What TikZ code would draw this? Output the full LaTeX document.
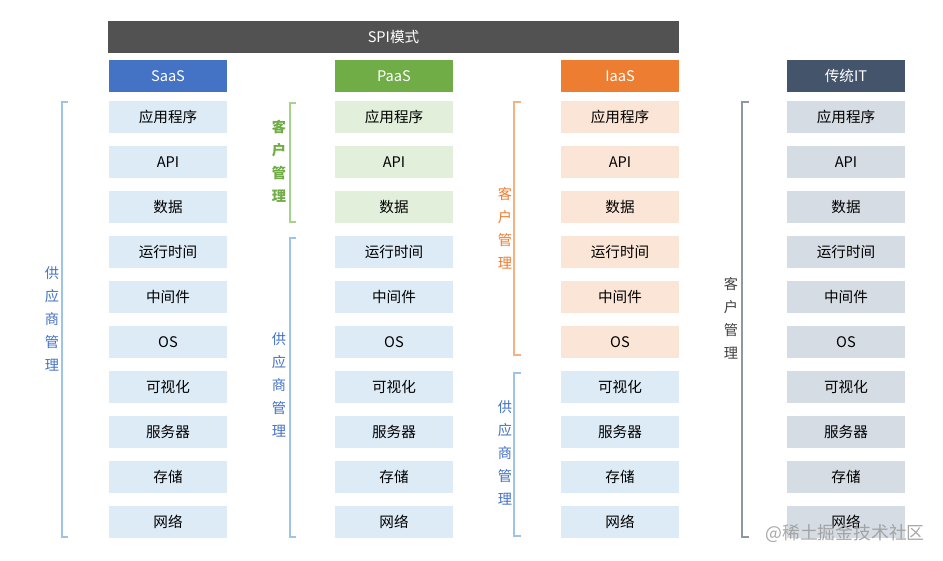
\documentclass[tikz,border=0pt]{standalone}
\usepackage{fontspec}
\setmainfont{Noto Sans CJK SC}
\definecolor{spi}{HTML}{525252}
\definecolor{saas}{HTML}{4472C4}
\definecolor{paas}{HTML}{70AD47}
\definecolor{iaas}{HTML}{ED7D31}
\definecolor{trad}{HTML}{44546A}
\definecolor{lblue}{HTML}{DDEBF7}
\definecolor{lgreen}{HTML}{E2EFDA}
\definecolor{lorange}{HTML}{FBE5D6}
\definecolor{lgray}{HTML}{D6DCE4}
\definecolor{bblue}{HTML}{9DC3E6}
\definecolor{bgreen}{HTML}{A9D18E}
\definecolor{borange}{HTML}{F4B183}
\definecolor{bgray}{HTML}{8F97A3}
\begin{document}
\begin{tikzpicture}[x=1pt,y=-1pt,
  cell/.style={minimum width=118pt,minimum height=32pt,inner sep=0pt,text=black,font=\fontsize{14.6}{16}\selectfont},
  head/.style={cell,text=white},
  brk/.style={line width=1.6pt},
  vlab/.style={align=center,inner sep=0pt,font=\fontsize{14.2}{23}\selectfont}]
\useasboundingbox (0,0) rectangle (943,561);
\fill[white] (0,0) rectangle (943,561);
% SPI bar
\node[cell,fill=spi,text=white,minimum width=571pt] (spi) at (393.5,37) {SPI模式};
% headers
\node[head,fill=saas] (h1) at (168,76) {SaaS};
\node[head,fill=paas] (h2) at (394,76) {PaaS};
\node[head,fill=iaas] (h3) at (620,76) {IaaS};
\node[head,fill=trad] (h4) at (846,76) {传统IT};
% rows
\def\rowlist{应用程序/0,API/1,数据/2,运行时间/3,中间件/4,OS/5,可视化/6,服务器/7,存储/8,网络/9}
\foreach \t/\j in \rowlist {
  \pgfmathsetmacro{\yy}{117+45*\j}
  \node[cell,fill=lblue] (c1-\j) at (168,\yy) {\t};
  \pgfmathsetmacro{\cA}{\j<3 ? 1 : 0}
  \ifdim\cA pt>0.5pt
    \node[cell,fill=lgreen] (c2-\j) at (394,\yy) {\t};
  \else
    \node[cell,fill=lblue] (c2-\j) at (394,\yy) {\t};
  \fi
  \pgfmathsetmacro{\cB}{\j<6 ? 1 : 0}
  \ifdim\cB pt>0.5pt
    \node[cell,fill=lorange] (c3-\j) at (620,\yy) {\t};
  \else
    \node[cell,fill=lblue] (c3-\j) at (620,\yy) {\t};
  \fi
  \node[cell,fill=lgray] (c4-\j) at (846,\yy) {\t};
}
% SaaS bracket
\draw[brk,bblue] (68,102) -- (62,102) -- (62,537) -- (68,537);
\node[vlab,text=saas] (l1) at (52,319) {供\\应\\商\\管\\理};
% PaaS brackets
\draw[brk,bgreen] (296,103) -- (290,103) -- (290,222) -- (296,222);
\node[vlab,text=paas,font=\fontsize{14.2}{23}\selectfont\bfseries] (l2a) at (279,161) {客\\户\\管\\理};
\draw[brk,bblue] (296,238) -- (290,238) -- (290,537) -- (296,537);
\node[vlab,text=saas] (l2b) at (279,385) {供\\应\\商\\管\\理};
% IaaS brackets
\draw[brk,borange] (521,102) -- (514,102) -- (514,355) -- (521,355);
\node[vlab,text=iaas] (l3a) at (505,228) {客\\户\\管\\理};
\draw[brk,bblue] (521,373) -- (514,373) -- (514,536) -- (521,536);
\node[vlab,text=saas] (l3b) at (505,453) {供\\应\\商\\管\\理};
% traditional bracket
\draw[brk,bgray] (749,102) -- (742,102) -- (742,537) -- (749,537);
\node[vlab,text=black!75] (l4) at (731,318) {客\\户\\管\\理};
% watermark
\node[inner sep=0pt,text=black!40,opacity=0.85,font=\fontsize{17.8}{19}\selectfont] (wm) at (845,533) {@稀土掘金技术社区};
\end{tikzpicture}
\end{document}
